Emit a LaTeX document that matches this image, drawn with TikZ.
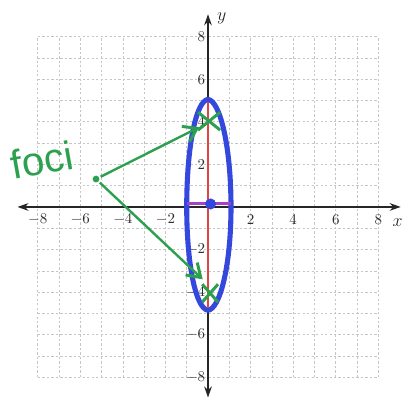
\documentclass[tikz,border=0pt]{standalone}
\usepackage{fontspec}
\usepackage{xcolor}
\usepackage{tikz}
\usetikzlibrary{positioning,arrows.meta,calc,shapes.misc}
\newfontfamily\handfont{Liberation Sans}
\definecolor{penblue}{RGB}{52,72,222}
\definecolor{pengreen}{RGB}{44,160,78}
\definecolor{penred}{RGB}{222,70,70}
\definecolor{penpurple}{RGB}{168,64,204}

\begin{document}
\begin{tikzpicture}[
    x=0.5cm, y=0.5cm,
    gridline/.style={draw=gray!45, line width=0.4pt, dash pattern=on 1.6pt off 1.4pt},
    axis/.style={{Stealth[length=2.6mm, width=1.8mm]}-{Stealth[length=2.6mm, width=1.8mm]},
                 draw=gray!30!black, line width=0.8pt},
    ticklab/.style={font=\normalsize, text=gray!35!black, inner sep=1pt},
    curve/.style={draw=penblue, line width=3.4pt, line join=round},
    majoraxis/.style={draw=penred, line width=1.4pt},
    minoraxis/.style={draw=penpurple, line width=1.8pt},
    focusmark/.style={cross out, draw=pengreen, line width=2pt,
                      minimum width=0.45cm, minimum height=0.35cm, inner sep=0pt},
    pointer/.style={-{Straight Barb[length=3mm, width=4mm, line width=2pt]},
                    draw=pengreen, line width=1.6pt, shorten <=1pt},
    dot/.style={circle, fill=#1, inner sep=0pt, minimum size=2.6mm}
]

\useasboundingbox (-9.77,-9.15) rectangle (9.44,9.72);

% --- graph paper ---
\foreach \k in {-8,...,8} {
    \draw[gridline] (\k,-8) -- (\k,8);
    \draw[gridline] (-8,\k) -- (8,\k);
}

% --- axes ---
\draw[axis] (-8.95,0) -- (9.05,0);
\draw[axis] (0,-8.95) -- (0,9.05);
\node[font=\large, text=gray!30!black] (xlab) at (8.9,-0.75) {$x$};
\node[font=\large, text=gray!30!black] (ylab) at (0.65,8.85) {$y$};

% --- tick labels ---
\foreach \t in {-8,-6,-4,-2,2,4,6,8} {
    \node[ticklab] (xt\t) at (\t,-0.6) {$\t$};
    \node[ticklab, anchor=east] (yt\t) at (-0.05,\t) {$\t$};
}

% --- the ellipse ---
\draw[curve] (0,5.05) .. controls (0.55,5.0) and (1.08,2.9) .. (1.08,0)
             .. controls (1.08,-2.8) and (0.55,-4.8) .. (0,-4.85)
             .. controls (-0.55,-4.8) and (-1.0,-2.8) .. (-1.0,0)
             .. controls (-1.0,2.9) and (-0.55,5.0) .. (0,5.05) -- cycle;

% --- axes of the ellipse and its centre ---
\coordinate (top) at (0,4.95);
\coordinate (bottom) at (0,-4.75);
\coordinate (left) at (-1.0,0.15);
\coordinate (right) at (1.08,0.15);
\draw[majoraxis] (top) -- (bottom);
\draw[minoraxis] (left) -- (right);
\node[dot=penblue] (centre) at (0.12,0.14) {};

% --- foci ---
\node[focusmark] (fup) at (0.05,4.03) {};
\node[focusmark, minimum width=0.3cm, minimum height=0.35cm] (fdown) at (0.1,-4.05) {};

% --- handwritten label with arrows ---
\node[font=\handfont\fontsize{27}{30}\selectfont, text=pengreen, rotate=10]
    (foci) at (-7.8,2.2) {foci};
\node[dot=pengreen, minimum size=1.6mm] (hub) at (-5.26,1.31) {};
\coordinate (tipup) at (-0.4,3.75);
\coordinate (tipdown) at (-0.25,-3.4);
\draw[pointer] (hub) -- (tipup);
\draw[pointer] (hub) -- (tipdown);

\end{tikzpicture}
\end{document}
